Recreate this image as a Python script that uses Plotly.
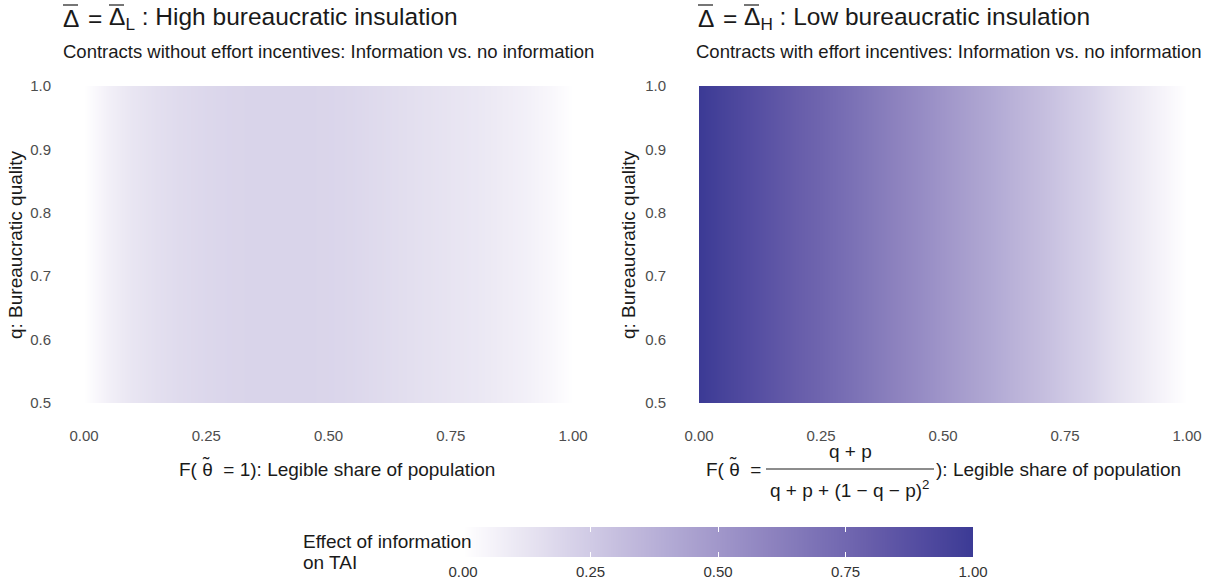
import plotly.graph_objects as go

# ---------------- data ----------------
legible_share = [0.00, 0.05, 0.10, 0.15, 0.20, 0.25, 0.30, 0.35, 0.40, 0.45, 0.50,
                 0.55, 0.60, 0.65, 0.70, 0.75, 0.80, 0.85, 0.90, 0.95, 1.00]
bureau_quality = [0.50, 0.75, 1.00]
effect_no_incentives = [0.00, 0.07, 0.12, 0.15, 0.17, 0.185, 0.195, 0.20, 0.20, 0.20, 0.195,
                        0.185, 0.17, 0.155, 0.14, 0.125, 0.11, 0.09, 0.07, 0.04, 0.00]
effect_incentives = [1.00, 0.95, 0.90, 0.85, 0.80, 0.76, 0.71, 0.66, 0.61, 0.56, 0.51,
                     0.46, 0.41, 0.36, 0.31, 0.26, 0.21, 0.15, 0.10, 0.05, 0.00]
x_ticks = [0, 0.25, 0.5, 0.75, 1.0]
x_ticktext = ["0.00", "0.25", "0.50", "0.75", "1.00"]
y_ticks = [0.5, 0.6, 0.7, 0.8, 0.9, 1.0]
y_ticktext = ["0.5", "0.6", "0.7", "0.8", "0.9", "1.0"]
cb_ticks = [0, 0.25, 0.5, 0.75, 1.0]
cb_ticktext = ["0.00", "0.25", "0.50", "0.75", "1.00"]

# ---------------- colour scale (Lab interpolation white -> dark blue) ----------------
def _lin(c):
    c = c / 255.0
    return c / 12.92 if c <= 0.04045 else ((c + 0.055) / 1.055) ** 2.4

def _delin(c):
    c = 12.92 * c if c <= 0.0031308 else 1.055 * c ** (1 / 2.4) - 0.055
    return max(0, min(255, round(c * 255)))

def rgb2lab(h):
    r, g, b = [_lin(int(h[i:i + 2], 16)) for i in (1, 3, 5)]
    X = (0.4124 * r + 0.3576 * g + 0.1805 * b) / 0.95047
    Y = (0.2126 * r + 0.7152 * g + 0.0722 * b)
    Z = (0.0193 * r + 0.1192 * g + 0.9505 * b) / 1.08883
    f = lambda t: t ** (1 / 3) if t > 0.008856 else 7.787 * t + 16 / 116
    fx, fy, fz = f(X), f(Y), f(Z)
    return 116 * fy - 16, 500 * (fx - fy), 200 * (fy - fz)

def lab2rgb(L, a, b):
    fy = (L + 16) / 116
    fx = fy + a / 500
    fz = fy - b / 200
    finv = lambda t: t ** 3 if t ** 3 > 0.008856 else (t - 16 / 116) / 7.787
    X, Y, Z = finv(fx) * 0.95047, finv(fy), finv(fz) * 1.08883
    r = 3.2406 * X - 1.5372 * Y - 0.4986 * Z
    g = -0.9689 * X + 1.8758 * Y + 0.0415 * Z
    bb = 0.0557 * X - 0.2040 * Y + 1.0570 * Z
    return "rgb(%d,%d,%d)" % (_delin(max(r, 0)), _delin(max(g, 0)), _delin(max(bb, 0)))

low, high = rgb2lab("#FFFFFF"), rgb2lab("#3B3A95")
n = 20
colorscale = []
for i in range(n + 1):
    t = i / n
    colorscale.append([t, lab2rgb(*[low[k] + (high[k] - low[k]) * t for k in range(3)])])

# ---------------- figure ----------------
W, H = 1214, 585
px = lambda x: x / W
py = lambda y: 1 - y / H

BASE = 19
SUB = 18.5
TICK = 15
TITLE = 24.5

fig = go.Figure()
for eff, xa, ya in [(effect_no_incentives, "x", "y"), (effect_incentives, "x2", "y2")]:
    fig.add_trace(go.Heatmap(
        x=legible_share, y=bureau_quality,
        z=[list(eff) for _ in bureau_quality],
        coloraxis="coloraxis", zsmooth="best", xaxis=xa, yaxis=ya,
        hoverinfo="skip"))

# legend gradient bar (drawn as its own heatmap on a small axis)
fig.add_trace(go.Heatmap(
    x=cb_ticks, y=[0], z=[cb_ticks], coloraxis="coloraxis", zsmooth="best",
    xaxis="x3", yaxis="y3", hoverinfo="skip"))

font_family = "Liberation Sans, Arial, sans-serif"
axis_common = dict(showgrid=False, zeroline=False, showline=False, ticks="", automargin=False,
                   tickfont=dict(family=font_family, size=TICK, color="#4D4D4D"))
ydom = [py(403), py(86)]
fig.update_layout(
    template="none",
    width=W, height=H, autosize=False,
    margin=dict(l=0, r=0, t=0, b=0, pad=0),
    paper_bgcolor="white", plot_bgcolor="white",
    font=dict(family=font_family, color="#1A1A1A"),
    xaxis=dict(domain=[px(84), px(573)], range=[0, 1], tickvals=x_ticks, ticktext=x_ticktext,
               ticklabelstandoff=22, anchor="y", **axis_common),
    yaxis=dict(domain=ydom, range=[0.5, 1.0], tickvals=y_ticks, ticktext=y_ticktext,
               ticklabelstandoff=32, anchor="x", **axis_common),
    xaxis2=dict(domain=[px(699), px(1187)], range=[0, 1], tickvals=x_ticks, ticktext=x_ticktext,
                ticklabelstandoff=22, anchor="y2", **axis_common),
    yaxis2=dict(domain=ydom, range=[0.5, 1.0], tickvals=y_ticks, ticktext=y_ticktext,
                ticklabelstandoff=32, anchor="x2", **axis_common),
    xaxis3=dict(domain=[px(463), px(973)], range=[0, 1], tickvals=cb_ticks, ticktext=cb_ticktext,
                showgrid=False, zeroline=False, showline=False, automargin=False,
                ticks="inside", ticklen=5, tickcolor="white", tickwidth=1, mirror="ticks",
                ticklabelstandoff=4, anchor="y3",
                tickfont=dict(family=font_family, size=TICK, color="#333333")),
    yaxis3=dict(domain=[py(557), py(527)], range=[-0.5, 0.5], visible=False, anchor="x3",
                automargin=False),
    coloraxis=dict(cmin=0, cmax=1, colorscale=colorscale, showscale=False),
)

ann = []
def add(text, x, y, size, xanchor="left", yanchor="middle", color="#1A1A1A", angle=0, align="center"):
    ann.append(dict(text=text, x=px(x), y=py(y), xref="paper", yref="paper",
                    xanchor=xanchor, yanchor=yanchor, showarrow=False, textangle=angle,
                    align=align, borderpad=0,
                    font=dict(family=font_family, size=size, color=color)))

shapes = []
def hline(x0, x1, y, w=1.2):
    shapes.append(dict(type="line", xref="paper", yref="paper",
                       x0=px(x0), x1=px(x1), y0=py(y), y1=py(y),
                       line=dict(color="#1A1A1A", width=w)))

# titles (Delta with overline drawn as a short line)
for x0, sub, rest in [(62, "L", "High bureaucratic insulation"),
                      (697, "H", "Low bureaucratic insulation")]:
    add("\u0394", x0, 19, TITLE)
    add("=", x0 + 25, 19, TITLE)
    add("\u0394<sub>" + sub + "</sub> : " + rest, x0 + 46, 19, TITLE)
    hline(x0 + 1, x0 + 16, 5)
    hline(x0 + 47, x0 + 62, 5)
add("Contracts without effort incentives: Information vs. no information", 62, 51, SUB)
add("Contracts with effort incentives: Information vs. no information", 695, 51, SUB)

# y axis titles
add("q: Bureaucratic quality", 15, 245, BASE, xanchor="center", angle=-90)
add("q: Bureaucratic quality", 628, 245, BASE, xanchor="center", angle=-90)

# x axis titles (tilde placed over theta)
add("F( \u03b8  = 1): Legible share of population", 178, 469, BASE, xanchor="left")
add("\u02dc", 206, 463, BASE, xanchor="center")
add("F( \u03b8  = ", 705, 469, BASE, xanchor="left")
add("\u02dc", 733, 463, BASE, xanchor="center")
add("q + p", 850, 451, BASE, xanchor="center")
add("q + p + (1 \u2212 q \u2212 p)<sup>2</sup>", 850, 489, BASE, xanchor="center")
add("): Legible share of population", 935, 469, BASE, xanchor="left")
hline(766, 934, 469, 1)

# legend title
add("Effect of information", 302, 541, BASE, xanchor="left")
add("on TAI", 302, 562, BASE, xanchor="left")

fig.update_layout(annotations=ann, shapes=shapes)
fig.write_html("out.html", config={"displayModeBar": False},
               post_script="document.body.style.margin='0';document.body.style.overflow='hidden';")
